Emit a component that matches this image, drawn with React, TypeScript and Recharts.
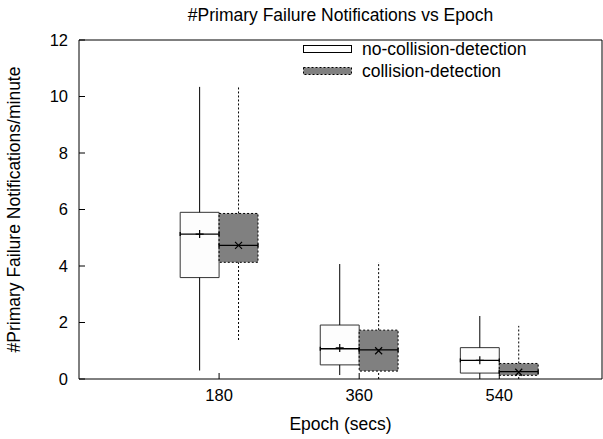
import React from 'react';
import {
  ComposedChart, XAxis, YAxis, Scatter, ReferenceArea, ReferenceLine, Label,
} from 'recharts';

const epochs = [180, 360, 540];
const xTicks = [180, 360, 540];
const yTicks = [0, 2, 4, 6, 8, 10, 12];
const seriesNames = ['no-collision-detection', 'collision-detection'];

const noColMin = [0.3, 0.14, 0.0];
const noColQ1 = [3.59, 0.5, 0.21];
const noColMedian = [5.13, 1.07, 0.66];
const noColQ3 = [5.9, 1.91, 1.11];
const noColMax = [10.34, 4.07, 2.23];
const noColMean = [5.13, 1.1, 0.66];

const colMin = [1.38, 0.0, 0.0];
const colQ1 = [4.13, 0.28, 0.13];
const colMedian = [4.73, 1.03, 0.26];
const colQ3 = [5.86, 1.73, 0.55];
const colMax = [10.35, 4.14, 1.88];
const colMean = [4.73, 1.0, 0.24];

const BOX_W = 50;
const CAP = 0.07;
const FONT = '"Liberation Sans", Arial, Helvetica, sans-serif';

const noColPts = epochs.map((e, i) => ({ x: e - BOX_W / 2, y: noColMean[i] }));
const colPts = epochs.map((e, i) => ({ x: e + BOX_W / 2, y: colMean[i] }));

const Plus = (p: any) => (
  <path d={`M${p.cx - 4},${p.cy}H${p.cx + 4}M${p.cx},${p.cy - 4}V${p.cy + 4}`} stroke="#000" strokeWidth={1.2} fill="none" />
);
const Cross = (p: any) => (
  <path d={`M${p.cx - 3.5},${p.cy - 3.5}L${p.cx + 3.5},${p.cy + 3.5}M${p.cx - 3.5},${p.cy + 3.5}L${p.cx + 3.5},${p.cy - 3.5}`} stroke="#000" strokeWidth={1.2} fill="none" />
);

const LegendBox = () => (
  <div style={{ position: 'absolute', left: 303, top: 38, fontFamily: FONT, fontSize: 17.5, color: '#000', lineHeight: '22px' }}>
    <div style={{ display: 'flex', alignItems: 'center', height: 22 }}>
      <svg width={50} height={10} style={{ marginRight: 9 }}>
        <rect x={0.5} y={1.5} width={48} height={7} fill="#fff" stroke="#000" strokeWidth={1} />
      </svg>
      <span>{seriesNames[0]}</span>
    </div>
    <div style={{ display: 'flex', alignItems: 'center', height: 22 }}>
      <svg width={50} height={10} style={{ marginRight: 9 }}>
        <rect x={0.5} y={1.5} width={48} height={7} fill="#808080" stroke="#000" strokeWidth={1} strokeDasharray="2 2" />
      </svg>
      <span>{seriesNames[1]}</span>
    </div>
  </div>
);

export default function App() {
  const boxes: React.ReactNode[] = [];
  epochs.forEach((e, i) => {
    const a0 = e - BOX_W, a1 = e, ac = e - BOX_W / 2;
    const b0 = e, b1 = e + BOX_W, bc = e + BOX_W / 2;
    boxes.push(<ReferenceLine key={`nw1${i}`} segment={[{ x: ac, y: noColQ3[i] }, { x: ac, y: noColMax[i] }]} stroke="#000" strokeWidth={1} ifOverflow="visible" />);
    boxes.push(<ReferenceLine key={`nw2${i}`} segment={[{ x: ac, y: noColMin[i] }, { x: ac, y: noColQ1[i] }]} stroke="#000" strokeWidth={1} ifOverflow="visible" />);
    boxes.push(<ReferenceLine key={`cw1${i}`} segment={[{ x: bc, y: colQ3[i] }, { x: bc, y: colMax[i] }]} stroke="#000" strokeWidth={1} strokeDasharray="2 2" ifOverflow="visible" />);
    boxes.push(<ReferenceLine key={`cw2${i}`} segment={[{ x: bc, y: colMin[i] }, { x: bc, y: colQ1[i] }]} stroke="#000" strokeWidth={1} strokeDasharray="2 2" ifOverflow="visible" />);
    boxes.push(<ReferenceArea key={`nb${i}`} x1={a0} x2={a1} y1={noColQ1[i]} y2={noColQ3[i]} fill="#fdfdfd" fillOpacity={1} stroke="#333" strokeWidth={1} ifOverflow="visible" />);
    boxes.push(<ReferenceArea key={`cb${i}`} x1={b0} x2={b1} y1={colQ1[i]} y2={colQ3[i]} fill="#808080" fillOpacity={1} stroke="#000" strokeWidth={1} strokeDasharray="2 2" ifOverflow="visible" />);
    boxes.push(<ReferenceLine key={`nm${i}`} segment={[{ x: a0, y: noColMedian[i] }, { x: a1, y: noColMedian[i] }]} stroke="#000" strokeWidth={1.3} ifOverflow="visible" />);
    boxes.push(<ReferenceLine key={`cm${i}`} segment={[{ x: b0, y: colMedian[i] }, { x: b1, y: colMedian[i] }]} stroke="#000" strokeWidth={1.3} ifOverflow="visible" />);
    [a0, a1].forEach((xx, k) => boxes.push(
      <ReferenceLine key={`nc${i}${k}`} segment={[{ x: xx, y: noColMedian[i] - CAP }, { x: xx, y: noColMedian[i] + CAP }]} stroke="#000" strokeWidth={1.3} ifOverflow="visible" />));
    [b0, b1].forEach((xx, k) => boxes.push(
      <ReferenceLine key={`cc${i}${k}`} segment={[{ x: xx, y: colMedian[i] - CAP }, { x: xx, y: colMedian[i] + CAP }]} stroke="#000" strokeWidth={1.3} ifOverflow="visible" />));
  });

  return (
    <div style={{ position: 'absolute', left: 0, top: 0, width: 603, height: 439, background: '#fff' }}>
      <div style={{ position: 'absolute', left: 0, top: 4, width: 603, textAlign: 'center', paddingLeft: 78, boxSizing: 'border-box', fontFamily: FONT, fontSize: 17.5, lineHeight: '22px' }}>
        #Primary Failure Notifications vs Epoch
      </div>
      <ComposedChart width={603} height={439} margin={{ top: 39, right: 0, bottom: 0, left: 0 }}
        style={{ fontFamily: FONT }}>
        <XAxis xAxisId="b" dataKey="x" type="number" domain={[0, 672]} ticks={xTicks} allowDataOverflow
          orientation="bottom" height={60} tickSize={-6} tickMargin={16} stroke="#000"
          tick={{ fill: '#000', fontSize: 16.5, fontFamily: FONT }} axisLine={{ stroke: '#000' }} tickLine={{ stroke: '#000' }}>
          <Label value="Epoch (secs)" position="insideBottom" offset={9} style={{ fill: '#000', fontSize: 17.5, fontFamily: FONT }} />
        </XAxis>
        <XAxis xAxisId="t" dataKey="x" type="number" domain={[0, 672]} ticks={xTicks} allowDataOverflow
          orientation="top" height={1} tickSize={-6} tick={false} stroke="#000" axisLine={{ stroke: '#000' }} tickLine={{ stroke: '#000' }} />
        <YAxis yAxisId="l" dataKey="y" type="number" domain={[0, 12]} ticks={yTicks} allowDataOverflow width={79}
          tickSize={-6} tickMargin={17} stroke="#000" tick={{ fill: '#000', fontSize: 16.5, fontFamily: FONT }}
          axisLine={{ stroke: '#000' }} tickLine={{ stroke: '#000' }}>
          <Label value="#Primary Failure Notifications/minute" angle={-90} position="insideLeft" offset={14}
            style={{ textAnchor: 'middle', fill: '#000', fontSize: 17.5, fontFamily: FONT }} />
        </YAxis>
        <YAxis yAxisId="r" dataKey="y" orientation="right" type="number" domain={[0, 12]} ticks={yTicks} allowDataOverflow width={1}
          tickSize={-6} tick={false} stroke="#000" axisLine={{ stroke: '#000' }} tickLine={{ stroke: '#000' }} />
        {boxes.map((b: any) => React.cloneElement(b, { xAxisId: 'b', yAxisId: 'l' }))}
        <Scatter name={seriesNames[0]} xAxisId="b" yAxisId="l" dataKey="y" data={noColPts} shape={Plus} isAnimationActive={false} />
        <Scatter name={seriesNames[1]} xAxisId="b" yAxisId="l" dataKey="y" data={colPts} shape={Cross} isAnimationActive={false} />
      </ComposedChart>
      <LegendBox />
    </div>
  );
}
